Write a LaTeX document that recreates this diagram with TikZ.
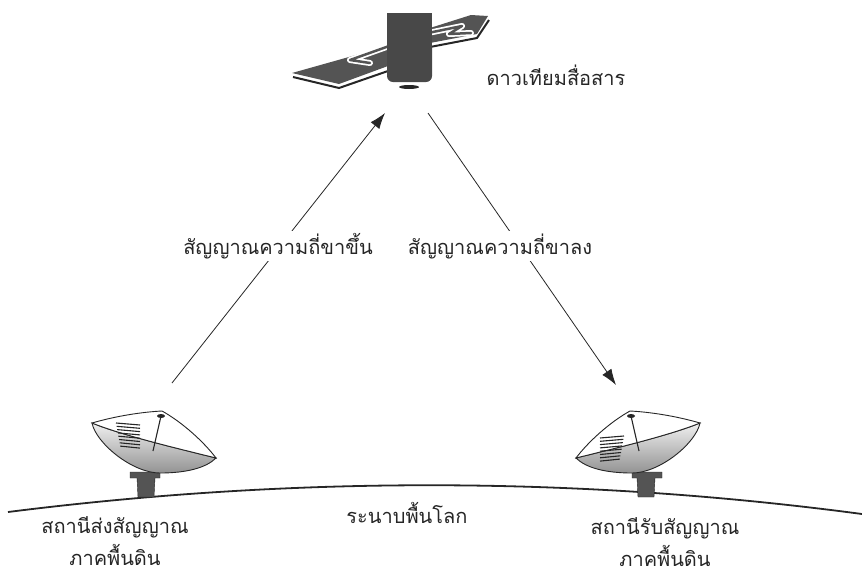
\documentclass[tikz,border=0pt]{standalone}
\usepackage{fontspec}
\newfontfamily\thaifont[Script=Thai]{Loma}
\usepackage{tikz}
\usetikzlibrary{calc, positioning, arrows.meta}
\definecolor{ink}{gray}{0.15}
\definecolor{metal}{gray}{0.33}
\newcommand\groundDish[5]{\begin{scope}[shift={(#1,#2)},xscale=#3]
	\fill[metal, draw=ink] (-24,32) -- (6,32) -- (6,38) -- (1,38) -- (0,57) -- (-16,57) -- (-17,38) -- (-24,38) -- cycle;
	\shade[top color=gray!12, bottom color=gray!85, draw=ink, line width=0.9pt] (-62,-17) .. controls (-58,3) and (-22,33) .. (6,33) .. controls (32,33) and (52,28) .. (62,18) .. controls (30,10) and (-30,-4) .. cycle;
	\fill[white, draw=ink, line width=0.9pt] (-62,-17) .. controls (-38,-24) and (-12,-28) .. (8,-29) .. controls (28,-18) and (50,2) .. (62,18) .. controls (30,10) and (-30,-4) .. cycle;
	\foreach \k in {0,...,7} \draw[ink, line width=1.1pt, shift={(#4,#5)}] (0.6*\k,3.3*\k) -- (24,2+3.3*\k);
	\draw[ink, line width=1.1pt] (7,-24) -- (-1,11);
	\fill[ink] (7,-24) ellipse (4pt and 2pt);
\end{scope}}

\begin{document}
\begin{tikzpicture}[x=1pt, y=-1pt,
	lbl/.style={font={\thaifont\fontsize{20}{32}\selectfont}, text=ink, inner sep=2pt, align=center},
	signal/.style={draw=ink, line width=0.8pt, -{Latex[length=16pt, width=11pt]}}]
	\useasboundingbox (0,0) rectangle (862,574);

	% ground plane
	\draw[ink, line width=1.8pt] (8,512) .. controls (293,476) and (577,476) .. (862,514);

	\groundDish{154}{440}{1}{-38}{-17}
	\groundDish{638}{440}{-1}{14}{-4}

	% satellite
	\fill[metal] (292,73) -- (388,46) -- (388,66) -- (339,84) -- cycle;
	\draw[ink, line width=2pt] (293,77) -- (339,88) -- (388,71);
	\draw[white, line width=6pt, line cap=round, line join=round] (392,45) -- (350,60) -- (370,63);
	\draw[metal, line width=2.5pt, line cap=round, line join=round] (392,45) -- (350,60) -- (370,63);
	\fill[metal] (430,28) -- (471,15) -- (488,16) -- (477,34) -- (430,43) -- cycle;
	\draw[ink, line width=2pt] (430,47) -- (477,38) -- (489,20);
	\draw[white, line width=6pt, line cap=round, line join=round] (428,33) -- (462,26) -- (449,34) -- (471,33);
	\draw[metal, line width=2.5pt, line cap=round, line join=round] (428,33) -- (462,26) -- (449,34) -- (471,33);
	\fill[metal!85!black] (387,13) rectangle (432,60);
	\fill[metal!85!black, rounded corners=6pt] (387,40) rectangle (432,82);
	\fill[ink] (409,87) ellipse (10pt and 2pt);

	\coordinate (txtop) at (172,383);
	\coordinate (satin) at (385,113);
	\coordinate (satout) at (428,113);
	\coordinate (rxtop) at (616,385);
	\draw[signal] (txtop) -- (satin);
	\draw[signal] (satout) -- (rxtop);

	\node[lbl] (satname) at (556,75) {ดาวเทียมสื่อสาร};
	\node[lbl, fill=white] (uplink) at (278,246) {สัญญาณความถี่ขาขึ้น};
	\node[lbl, fill=white] (downlink) at (500,246) {สัญญาณความถี่ขาลง};
	\node[lbl] (plane) at (407,513) {ระนาบพื้นโลก};
	\node[lbl] (txname) at (115,541) {สถานีส่งสัญญาณ\\ภาคพื้นดิน};
	\node[lbl] (rxname) at (665,542) {สถานีรับสัญญาณ\\ภาคพื้นดิน};
\end{tikzpicture}
\end{document}
